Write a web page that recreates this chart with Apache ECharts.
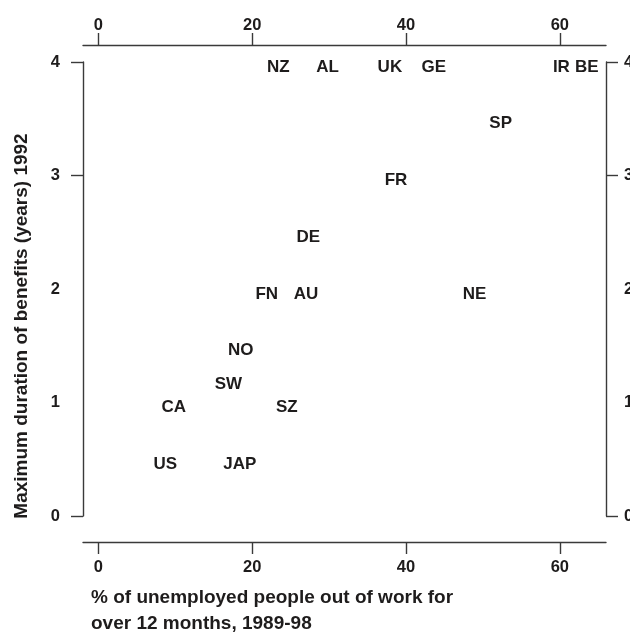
<!DOCTYPE html>
<html>
<head>
<meta charset="utf-8">
<script src="https://cdn.jsdelivr.net/npm/echarts@6/dist/echarts.min.js"></script>
<style>
  html, body { margin: 0; padding: 0; background: #fff; }
  #chart { width: 630px; height: 634px; }
</style>
</head>
<body>
<div id="chart"></div>
<script>
// country labels, % long-term unemployed (x), max benefit duration in years (y)
const countries = ['NZ', 'AL', 'UK', 'GE', 'IR', 'BE', 'SP', 'FR', 'DE', 'FN', 'AU', 'NE', 'NO', 'SW', 'CA', 'SZ', 'US', 'JAP']
const longTermPct = [23.4, 29.8, 37.9, 43.6, 60.2, 63.5, 52.3, 38.7, 27.3, 21.9, 27.0, 48.9, 18.5, 16.9, 9.8, 24.5, 8.7, 18.4]
const benefitYears = [4, 4, 4, 4, 4, 4, 3.5, 3, 2.5, 2, 2, 2, 1.5, 1.2, 1, 1, 0.5, 0.5]

const xTicks = [0, 20, 40, 60]
const yLabels = [0, 1, 2, 3, 4]
const yTickMarks = [0, 3, 4] // only these carry a tick mark in the original

const INK = '#1e1c1c'
const AXIS = '#3a3a3a'
const FONT = "'Liberation Sans', Arial, Helvetica, sans-serif"

const chart = echarts.init(document.getElementById('chart'), null, { renderer: 'canvas' })

const xAxisBase = {
  type: 'value',
  min: -2,
  max: 66,
  splitLine: { show: false },
  axisLine: { show: true, onZero: false, lineStyle: { color: AXIS, width: 1.4 } },
  axisTick: { show: true, length: 12, customValues: xTicks, lineStyle: { color: AXIS, width: 1.4 } },
  axisLabel: { customValues: xTicks, color: INK, fontSize: 16.5, fontWeight: 'bold', fontFamily: FONT }
}

const yAxisBase = {
  type: 'value',
  min: 0,
  max: 4,
  interval: 1,
  splitLine: { show: false },
  axisLine: { show: true, onZero: false, lineStyle: { color: AXIS, width: 1.4 } },
  axisTick: { show: true, length: 12, customValues: yTickMarks, lineStyle: { color: AXIS, width: 1.4 } },
  axisLabel: { customValues: yLabels, color: INK, fontSize: 16.5, fontWeight: 'bold', fontFamily: FONT }
}

const points = countries.map((c, i) => ({ name: c, value: [longTermPct[i], benefitYears[i]] }))

chart.setOption({
  backgroundColor: '#fff',
  animation: false,
  // right-hand labels run off the canvas in the original, so no outer bounds
  grid: { left: 83, right: 24, top: 62, bottom: 118, containLabel: false, outerBoundsMode: 'none' },
  xAxis: [
    // margin counts from the axis line, so it includes the tick length
    { ...xAxisBase, position: 'bottom', offset: 26, axisLabel: { ...xAxisBase.axisLabel, margin: 17 } },
    { ...xAxisBase, position: 'top', offset: 17, axisLabel: { ...xAxisBase.axisLabel, margin: 11 } }
  ],
  yAxis: [
    { ...yAxisBase, position: 'left', axisLabel: { ...yAxisBase.axisLabel, margin: 23 } },
    { ...yAxisBase, position: 'right', axisLabel: { ...yAxisBase.axisLabel, margin: 18 } }
  ],
  series: [
    {
      type: 'scatter',
      symbolSize: 0,
      itemStyle: { color: INK, opacity: 1 },
      label: {
        show: true,
        position: 'inside',
        offset: [0, 5],
        formatter: (p) => p.name,
        color: INK,
        textBorderWidth: 0,
        fontSize: 17,
        fontWeight: 'bold',
        fontFamily: FONT
      },
      data: points
    }
  ],
  graphic: [
    {
      type: 'text',
      x: 22,
      y: 326,
      rotation: Math.PI / 2,
      style: {
        text: 'Maximum duration of benefits (years) 1992',
        fill: INK,
        font: 'bold 19px ' + FONT,
        textAlign: 'center',
        textVerticalAlign: 'middle'
      }
    },
    {
      type: 'text',
      x: 91,
      y: 585,
      style: {
        text: '% of unemployed people out of work for\nover 12 months, 1989-98',
        fill: INK,
        font: 'bold 19px ' + FONT,
        lineHeight: 26,
        textAlign: 'left',
        textVerticalAlign: 'top'
      }
    }
  ]
})
</script>
</body>
</html>
